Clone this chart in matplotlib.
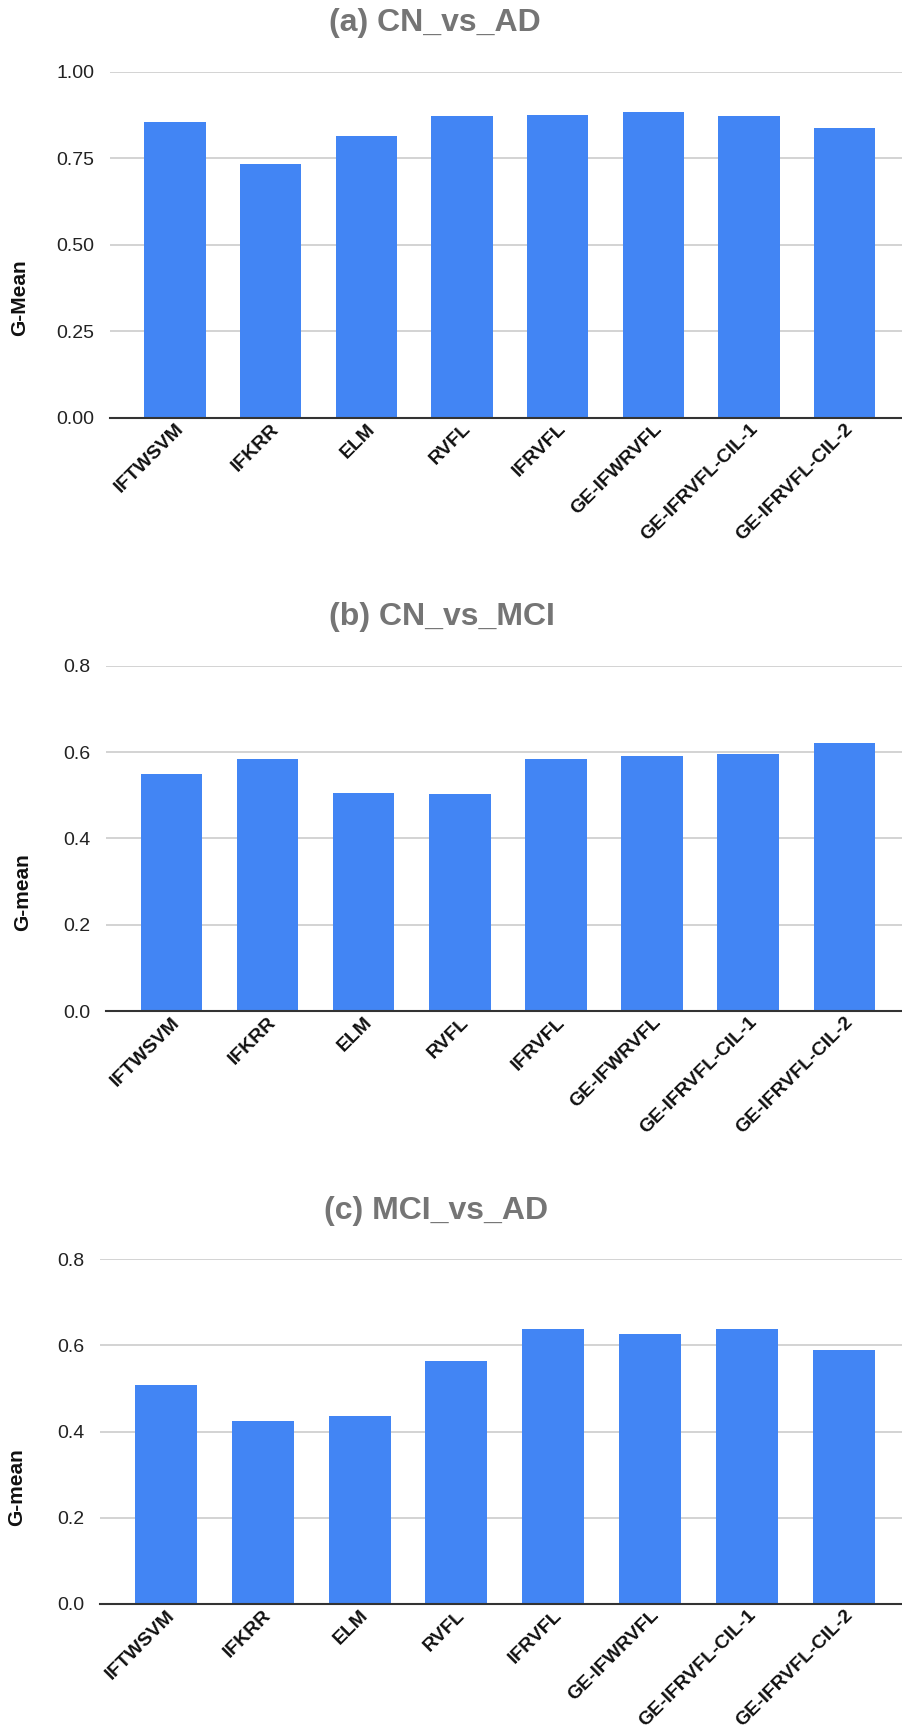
import numpy as np
import matplotlib.pyplot as plt
import matplotlib.transforms as mtransforms

plt.rcParams['font.family'] = ['Liberation Sans', 'DejaVu Sans']

models = ['IFTWSVM', 'IFKRR', 'ELM', 'RVFL', 'IFRVFL', 'GE-IFWRVFL',
          'GE-IFRVFL-CIL-1', 'GE-IFRVFL-CIL-2']
cn_ad = [0.856, 0.733, 0.816, 0.872, 0.876, 0.885, 0.872, 0.839]
cn_mci = [0.550, 0.583, 0.505, 0.502, 0.583, 0.591, 0.595, 0.620]
mci_ad = [0.508, 0.424, 0.435, 0.564, 0.638, 0.627, 0.638, 0.590]

titles = ['(a) CN_vs_AD', '(b) CN_vs_MCI', '(c) MCI_vs_AD']
ylabels = ['G-Mean', 'G-mean', 'G-mean']
yticks = [[0, 0.25, 0.5, 0.75, 1.0], [0, 0.2, 0.4, 0.6, 0.8], [0, 0.2, 0.4, 0.6, 0.8]]
yfmt = ['{:.2f}', '{:.1f}', '{:.1f}']

W, H = 902, 1729
fig = plt.figure(figsize=(W/100, H/100), dpi=100)

# pixel boxes: left, top, bottom
boxes = [(110, 72, 417.7), (106, 665.7, 1011), (100, 1259, 1604)]
title_pos = [(435, 23), (442, 617), (436, 1211)]
ylab_pos = [(20, 298), (23, 892), (17, 1487)]

x = np.arange(len(models))
shift = mtransforms.ScaledTranslation(21/100, 0, fig.dpi_scale_trans)
for i, vals in enumerate([cn_ad, cn_mci, mci_ad]):
    l, t, b = boxes[i]
    ax = fig.add_axes([l/W, 1-b/H, 1-l/W, (b-t)/H])
    ax.bar(x, vals, width=0.64, color='#4285F4', zorder=3)
    ax.set_xlim(-0.68, 7.6)
    ax.set_ylim(0, yticks[i][-1])
    ax.set_yticks(yticks[i])
    ax.set_yticklabels([yfmt[i].format(v) for v in yticks[i]], fontsize=14, color='#222222')
    ax.set_xticks(x)
    ax.set_xticklabels(models, rotation=45, ha='right', va='top', rotation_mode='anchor',
                       fontsize=14, fontweight='bold', color='#111111')
    for lab in ax.get_xticklabels():
        lab.set_transform(lab.get_transform() + shift)
    ax.tick_params(axis='both', length=0)
    ax.tick_params(axis='y', pad=11)
    ax.tick_params(axis='x', pad=2)
    ax.grid(axis='y', color='#cccccc', linewidth=1.2, zorder=0)
    for s in ['top', 'right', 'left']:
        ax.spines[s].set_visible(False)
    ax.spines['bottom'].set_color('#333333')
    ax.spines['bottom'].set_linewidth(1.5)
    ax.spines['bottom'].set_zorder(4)

    tx, ty = title_pos[i]
    fig.text(tx/W, 1-ty/H, titles[i], ha='center', va='center', fontsize=23,
             fontweight='bold', color='#757575')
    lx, ly = ylab_pos[i]
    fig.text(lx/W, 1-ly/H, ylabels[i], ha='center', va='center', rotation=90,
             fontsize=15, fontweight='bold', color='#111111')

plt.savefig('out.png', dpi=100)
